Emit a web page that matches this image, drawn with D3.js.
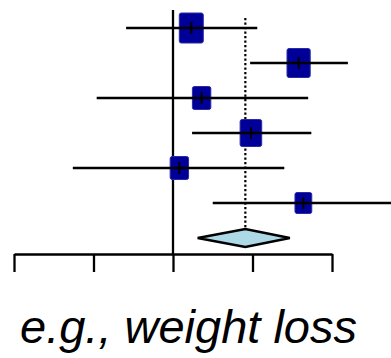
<!DOCTYPE html>
<html lang="en">
<head>
  <meta charset="utf-8">
  <title>Forest plot</title>
  <script src="https://cdn.jsdelivr.net/npm/d3@7"></script>
  <style>
    body { margin: 0; background: #fff; overflow: hidden; }
    .ci { stroke: #000; stroke-width: 2.3px; }
    .box { fill: #000099; stroke: #2a2aa8; stroke-width: 1px; }
    .mid { stroke: #000; stroke-width: 2px; }
    .caption { font: italic 47px 'Liberation Sans', Arial, sans-serif; fill: #000; }
  </style>
</head>
<body>
  <div id="chart"></div>
  <script>
    // study rows (top to bottom)
    const studies = ["s1", "s2", "s3", "s4", "s5", "s6"];
    const estimate = [0.23, 1.58, 0.36, 0.98, 0.08, 1.64];
    const lower    = [-0.59, 0.97, -0.96, 0.24, -1.26, 0.50];
    const upper    = [1.06, 2.20, 1.70, 1.74, 1.40, 2.90];
    const weight   = [30, 29, 23, 27, 23, 21];
    // pooled estimate
    const pooled = { est: 0.91, lo: 0.31, hi: 1.47 };
    const tickValues = [-2, -1, 0, 1, 2];
    const caption = "e.g., weight loss";

    const width = 391, height = 358;
    const svg = d3.select("#chart").append("svg")
      .attr("width", width).attr("height", height);

    const x = d3.scaleLinear().domain([-2, 2]).range([14, 332]);
    const y = d3.scalePoint().domain([...studies, "pooled"]).range([28, 238]);
    const boxH = d3.scaleLinear().domain([0, 30]).range([0, 30]);
    const axisY = 254;

    // line of no effect
    svg.append("line")
      .attr("x1", x(0)).attr("x2", x(0))
      .attr("y1", 10).attr("y2", axisY)
      .attr("stroke", "#000").attr("stroke-width", 2.3);

    // pooled estimate, dotted
    svg.append("line")
      .attr("x1", x(pooled.est)).attr("x2", x(pooled.est))
      .attr("y1", 18).attr("y2", y("pooled") - 9)
      .attr("stroke", "#000").attr("stroke-width", 2.2)
      .attr("stroke-dasharray", "2.2,2.3");

    const rows = studies.map((s, i) => ({
      id: s, est: estimate[i], lo: lower[i], hi: upper[i], w: weight[i]
    }));

    const g = svg.append("g");
    g.selectAll(".box").data(rows).enter().append("rect")
      .attr("class", "box")
      .attr("rx", 2)
      .attr("x", d => x(d.est) - boxH(d.w) * 0.4)
      .attr("y", d => y(d.id) - boxH(d.w) / 2)
      .attr("width", d => boxH(d.w) * 0.8)
      .attr("height", d => boxH(d.w));

    // CI lines drawn over the boxes
    g.selectAll(".ci").data(rows).enter().append("line")
      .attr("class", "ci")
      .attr("x1", d => x(d.lo)).attr("x2", d => Math.min(x(d.hi), width + 5))
      .attr("y1", d => y(d.id)).attr("y2", d => y(d.id));

    g.selectAll(".mid").data(rows).enter().append("line")
      .attr("class", "mid")
      .attr("x1", d => x(d.est)).attr("x2", d => x(d.est))
      .attr("y1", d => y(d.id) - 6).attr("y2", d => y(d.id) + 6);

    // diamond
    const py = y("pooled");
    svg.append("path")
      .attr("d", `M${x(pooled.lo)},${py} L${x(pooled.est)},${py - 9} L${x(pooled.hi)},${py} L${x(pooled.est)},${py + 9} Z`)
      .attr("fill", "#add8e6").attr("stroke", "#000").attr("stroke-width", 2.3);

    // axis
    const axis = svg.append("g")
      .attr("transform", `translate(0,${axisY})`)
      .call(d3.axisBottom(x).tickValues(tickValues).tickSizeInner(18).tickSizeOuter(0).tickFormat(""));
    axis.select(".domain").attr("stroke-width", 2.3);
    axis.selectAll(".tick line").attr("stroke-width", 2.3);

    svg.append("text")
      .attr("class", "caption")
      .attr("x", 20).attr("y", 343)
      .text(caption);
  </script>
</body>
</html>
